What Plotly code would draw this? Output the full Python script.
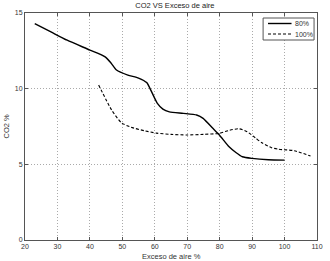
import plotly.graph_objects as go

x80 = [23, 28, 33, 40, 44.7, 46.5, 48.2, 51.7, 55, 57.5, 59, 60.8, 62.5, 64.5, 68.8, 72.9, 74.9, 77.9, 79.9, 82.9, 85, 87, 90, 95, 100]
y80 = [14.3, 13.75, 13.2, 12.55, 12.1, 11.7, 11.23, 10.9, 10.7, 10.4, 9.8, 9.03, 8.65, 8.47, 8.37, 8.26, 8.04, 7.38, 6.94, 6.16, 5.78, 5.5, 5.39, 5.3, 5.28]

x100 = [42.7, 46.7, 49.7, 52.7, 56.8, 60.5, 65, 69.8, 75, 79.9, 83, 85.9, 88.5, 91, 93, 96, 98, 103, 108]
y100 = [10.24, 8.59, 7.75, 7.45, 7.22, 7.06, 6.98, 6.94, 6.98, 7.05, 7.25, 7.35, 7.15, 6.75, 6.42, 6.1, 6.0, 5.9, 5.55]

names = ["80%", "100%"]

L, R, T, B, W, H = 25, 7, 13, 21, 330, 261
PW, PH = W - L - R, H - T - B


def px(xp):
    return (xp - L) / PW


def py(yp):
    return (H - B - yp) / PH


fig = go.Figure()
fig.add_trace(go.Scatter(x=x80, y=y80, mode="lines", name=names[0],
                         line=dict(color="black", width=1.4, shape="spline", smoothing=0.6)))
fig.add_trace(go.Scatter(x=x100, y=y100, mode="lines", name=names[1],
                         line=dict(color="black", width=1.1, dash="3px,2px", shape="spline", smoothing=0.6)))

axis_common = dict(showline=True, mirror="ticks", linecolor="#555", linewidth=1,
                   ticks="inside", ticklen=3, tickcolor="#555",
                   showgrid=True, gridcolor="#aaa", griddash="1px,2px", gridwidth=1,
                   zeroline=False, ticklabeloverflow="allow",
                   tickfont=dict(family="Liberation Sans", size=7, color="#333"))

# manual compact legend (box, line samples, labels)
shapes = [
    dict(type="rect", xref="paper", yref="paper", x0=px(268), x1=px(320), y0=py(40), y1=py(18),
         line=dict(color="#555", width=1), fillcolor="white", layer="above"),
    dict(type="line", xref="paper", yref="paper", x0=px(273), x1=px(297), y0=py(23.5), y1=py(23.5),
         line=dict(color="black", width=1.4), layer="above"),
    dict(type="line", xref="paper", yref="paper", x0=px(273), x1=px(297), y0=py(34), y1=py(34),
         line=dict(color="black", width=1.1, dash="3px,2px"), layer="above"),
]
leg_font = dict(family="Liberation Sans", size=7, color="#333")
annotations = [
    dict(text=names[0], xref="paper", yref="paper", x=px(299), y=py(23.5), xanchor="left", yanchor="middle",
         showarrow=False, font=leg_font),
    dict(text=names[1], xref="paper", yref="paper", x=px(299), y=py(34), xanchor="left", yanchor="middle",
         showarrow=False, font=leg_font),
    dict(text="Exceso de aire %", xref="paper", yref="paper", x=0.5, y=-0.042,
         xanchor="center", yanchor="top", showarrow=False,
         font=dict(family="Liberation Sans", size=7.5, color="#333")),
    dict(text="CO2 %", xref="paper", yref="paper", x=-0.065, y=0.5,
         xanchor="center", yanchor="middle", showarrow=False, textangle=-90,
         font=dict(family="Liberation Sans", size=7.5, color="#333")),
]

fig.update_layout(
    width=W, height=H,
    margin=dict(l=L, r=R, t=T, b=B),
    paper_bgcolor="white", plot_bgcolor="white",
    title=dict(text="CO2 VS Exceso de aire", x=0.53, xanchor="center", y=0.99, yanchor="top",
               font=dict(family="Liberation Sans", size=7.5, color="#222")),
    xaxis=dict(range=[20, 110], tickvals=list(range(20, 111, 10)), **axis_common),
    yaxis=dict(range=[0, 15], tickvals=[0, 5, 10, 15], **axis_common),
    showlegend=False,
    shapes=shapes,
    annotations=annotations,
)
fig.write_html("out.html", config={"displayModeBar": False},
               post_script="document.body.style.margin='0';document.body.style.overflow='hidden';")
